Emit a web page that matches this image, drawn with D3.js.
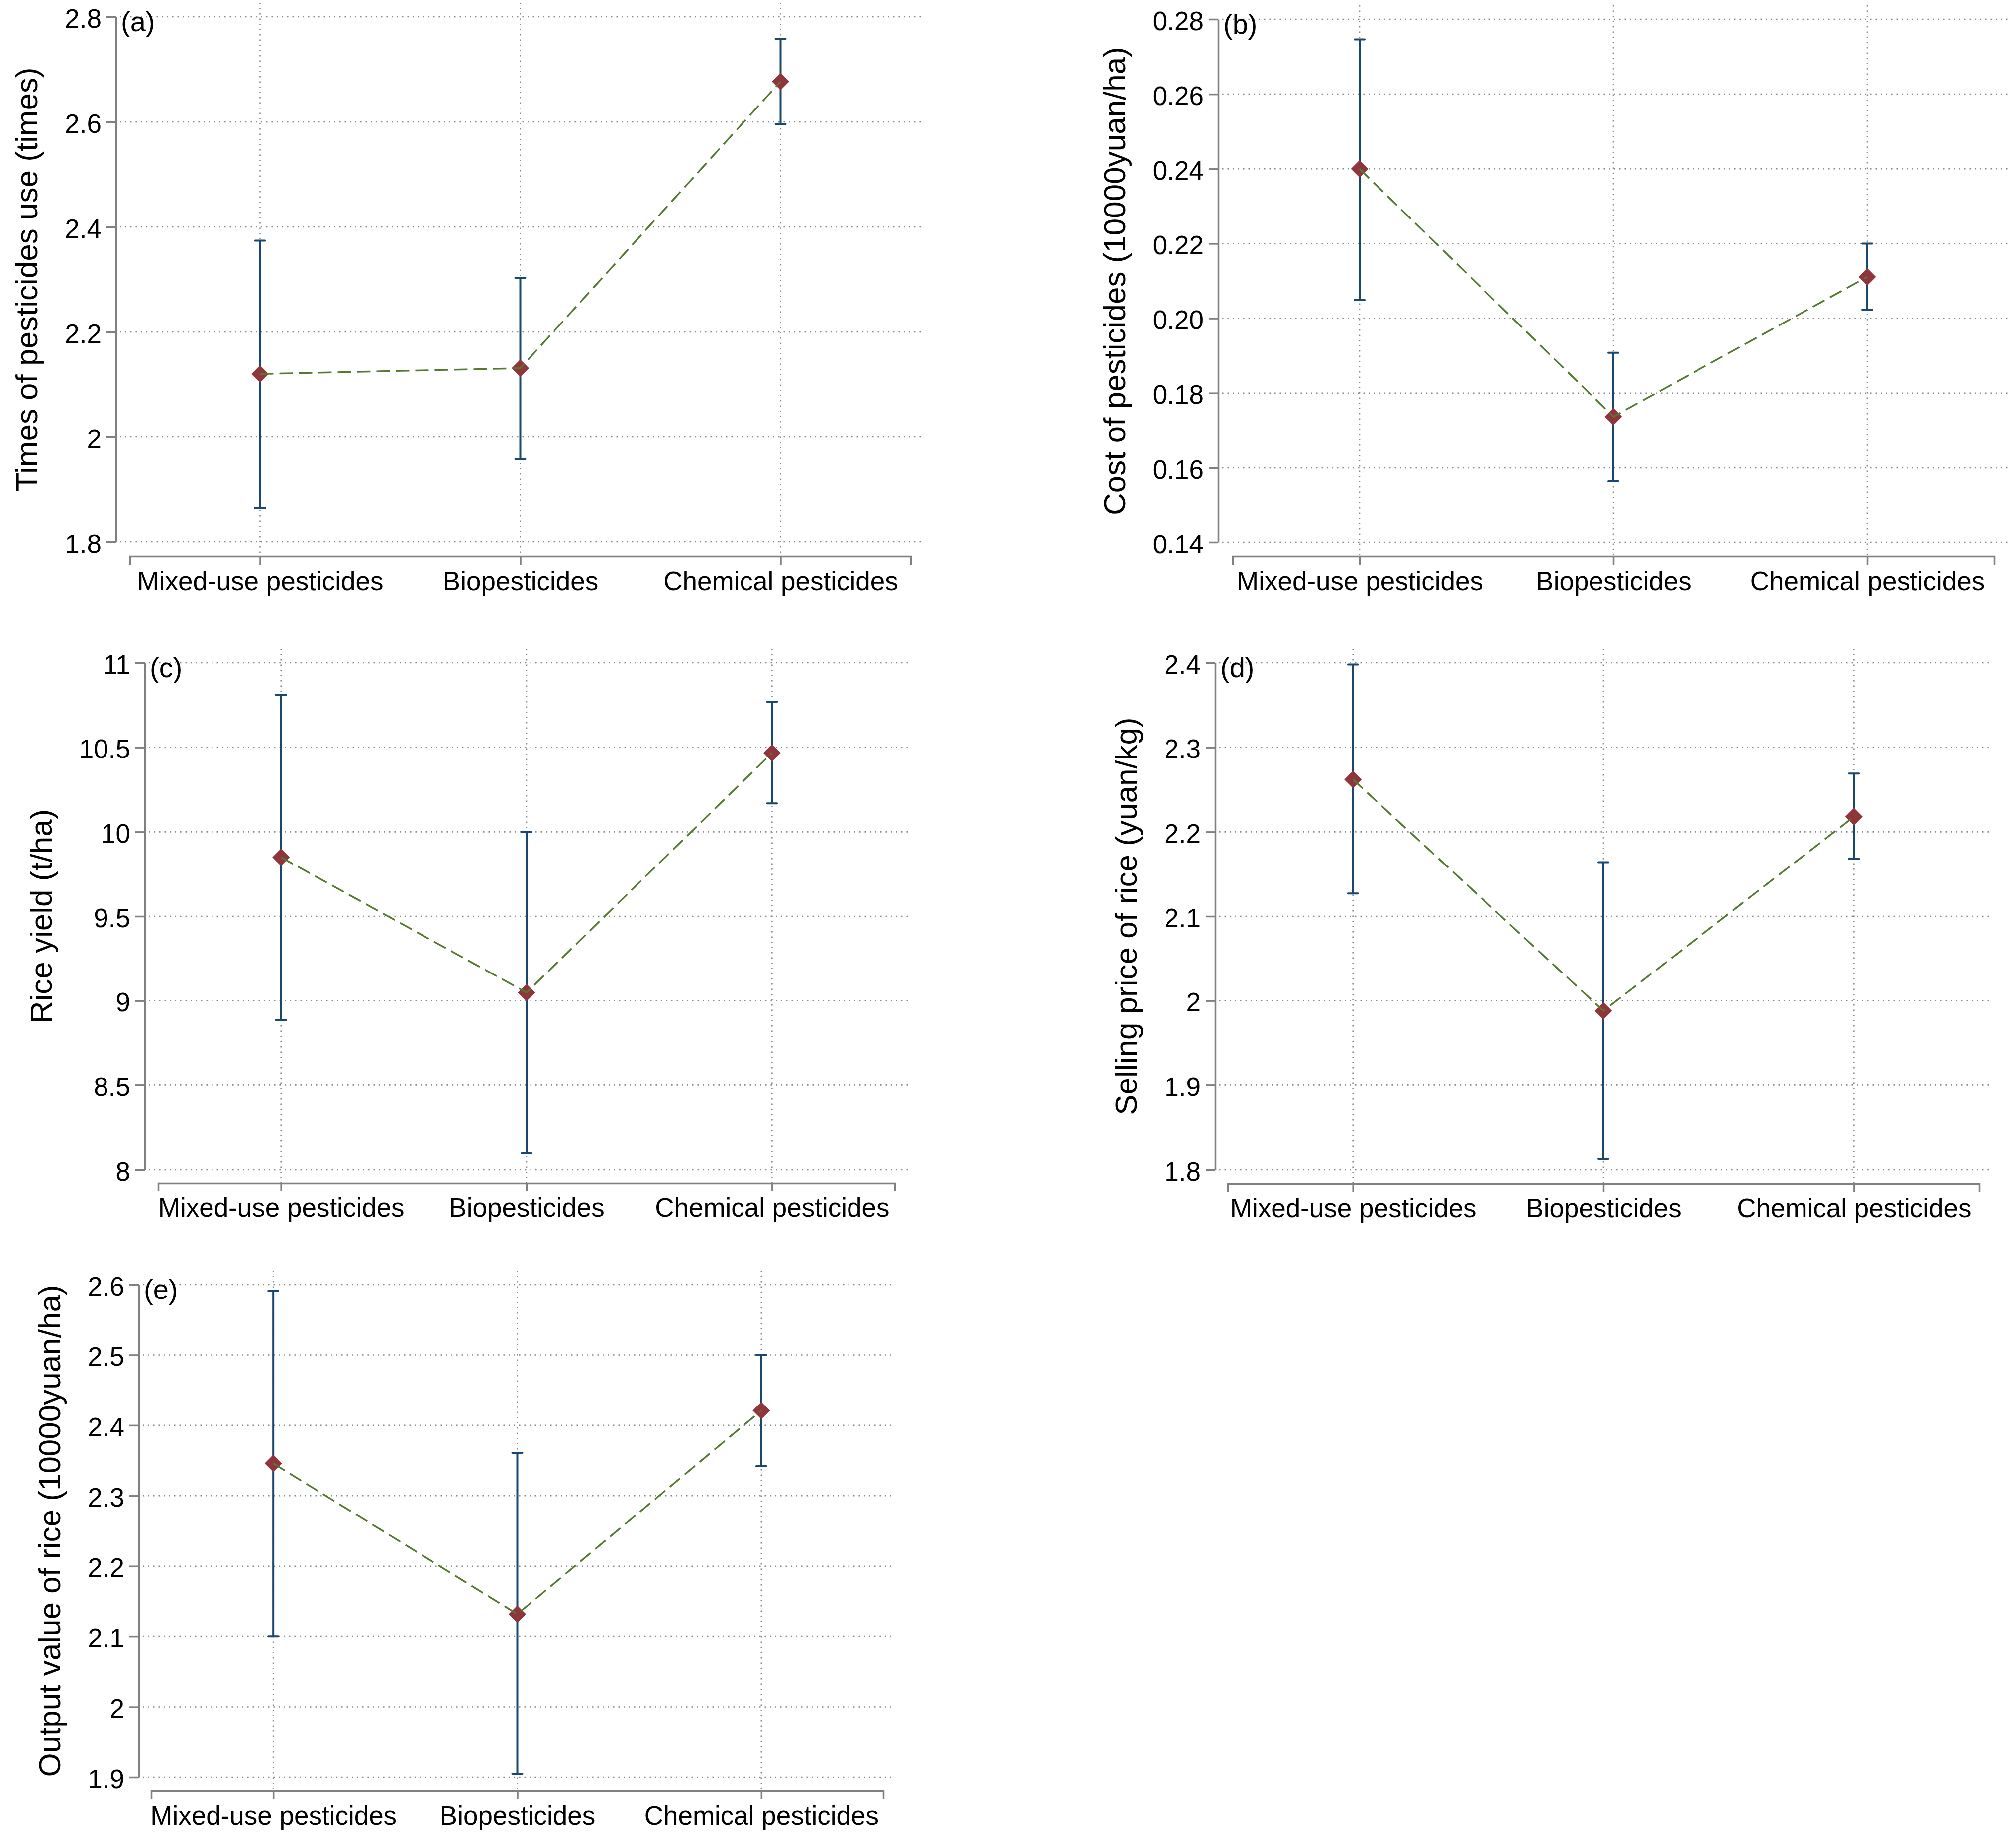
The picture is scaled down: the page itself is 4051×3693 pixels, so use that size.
<!DOCTYPE html>
<html>
<head>
<meta charset="utf-8">
<script src="https://cdn.jsdelivr.net/npm/d3@7.9.0/dist/d3.min.js"></script>
<style>
  body { margin: 0; background: #fff; }
  text { font-family: 'Liberation Sans', Arial, Helvetica, sans-serif; fill: #000; }
</style>
</head>
<body>
<script>
// categories on the x axis (same for every panel)
const categories = ['Mixed-use pesticides', 'Biopesticides', 'Chemical pesticides'];

// panel letters and y titles
const panelLetters = ['(a)', '(b)', '(c)', '(d)', '(e)'];
const yTitles = [
  'Times of pesticides use (times)',
  'Cost of pesticides (10000yuan/ha)',
  'Rice yield (t/ha)',
  'Selling price of rice (yuan/kg)',
  'Output value of rice (10000yuan/ha)'
];

// (a) times of pesticide use
const timesMean = [2.120, 2.131, 2.677];
const timesLow  = [1.865, 1.958, 2.596];
const timesHigh = [2.374, 2.303, 2.758];
const timesTicks  = [1.8, 2.0, 2.2, 2.4, 2.6, 2.8];
const timesLabels = ['1.8', '2', '2.2', '2.4', '2.6', '2.8'];

// (b) cost of pesticides
const costMean = [0.2400, 0.1737, 0.2111];
const costLow  = [0.2049, 0.1564, 0.2023];
const costHigh = [0.2746, 0.1908, 0.2200];
const costTicks  = [0.14, 0.16, 0.18, 0.20, 0.22, 0.24, 0.26, 0.28];
const costLabels = ['0.14', '0.16', '0.18', '0.20', '0.22', '0.24', '0.26', '0.28'];

// (c) rice yield
const yieldMean = [9.849, 9.048, 10.467];
const yieldLow  = [8.886, 8.097, 10.168];
const yieldHigh = [10.81, 9.999, 10.77];
const yieldTicks  = [8, 8.5, 9, 9.5, 10, 10.5, 11];
const yieldLabels = ['8', '8.5', '9', '9.5', '10', '10.5', '11'];

// (d) selling price
const priceMean = [2.262, 1.988, 2.218];
const priceLow  = [2.127, 1.813, 2.168];
const priceHigh = [2.398, 2.164, 2.269];
const priceTicks  = [1.8, 1.9, 2.0, 2.1, 2.2, 2.3, 2.4];
const priceLabels = ['1.8', '1.9', '2', '2.1', '2.2', '2.3', '2.4'];

// (e) output value
const outputMean = [2.346, 2.132, 2.421];
const outputLow  = [2.100, 1.905, 2.342];
const outputHigh = [2.591, 2.361, 2.500];
const outputTicks  = [1.9, 2.0, 2.1, 2.2, 2.3, 2.4, 2.5, 2.6];
const outputLabels = ['1.9', '2', '2.1', '2.2', '2.3', '2.4', '2.5', '2.6'];

const series = [
  { mean: timesMean,  low: timesLow,  high: timesHigh,  ticks: timesTicks,  labels: timesLabels },
  { mean: costMean,   low: costLow,   high: costHigh,   ticks: costTicks,   labels: costLabels },
  { mean: yieldMean,  low: yieldLow,  high: yieldHigh,  ticks: yieldTicks,  labels: yieldLabels },
  { mean: priceMean,  low: priceLow,  high: priceHigh,  ticks: priceTicks,  labels: priceLabels },
  { mean: outputMean, low: outputLow, high: outputHigh, ticks: outputTicks, labels: outputLabels }
];

// panel geometry (pixels)
const layout = [
  { axisX: 233,  yTop: 34,   yBot: 1089, xAxisY: 1118, xStart: 261,  xEnd: 1830, gridR: 1855 },
  { axisX: 2448, yTop: 39,   yBot: 1090, xAxisY: 1118, xStart: 2477, xEnd: 4007, gridR: 4034 },
  { axisX: 291,  yTop: 1332, yBot: 2350, xAxisY: 2377, xStart: 318,  xEnd: 1798, gridR: 1824 },
  { axisX: 2442, yTop: 1332, yBot: 2350, xAxisY: 2378, xStart: 2467, xEnd: 3977, gridR: 4004 },
  { axisX: 279,  yTop: 2581, yBot: 3571, xAxisY: 3598, xStart: 304,  xEnd: 1775, gridR: 1799 }
];

const W = 4051, H = 3693;
const GRID = '#888', AXIS = '#808080', NAVY = '#1a476f', CRAN = '#90353b', GREEN = '#55792f';

const svg = d3.select('body').append('svg')
  .attr('width', W).attr('height', H);
svg.append('rect').attr('width', W).attr('height', H).attr('fill', '#fff');

series.forEach((s, i) => {
  const L = layout[i];
  const g = svg.append('g');

  const y = d3.scaleLinear()
    .domain([s.ticks[0], s.ticks[s.ticks.length - 1]])
    .range([L.yBot, L.yTop]);
  const x = d3.scalePoint()
    .domain(categories)
    .range([L.xStart, L.xEnd])
    .padding(0.5);

  // dotted grid
  g.append('g').selectAll('line')
    .data(s.ticks).join('line')
      .attr('x1', L.axisX + 8).attr('x2', L.gridR)
      .attr('y1', d => y(d)).attr('y2', d => y(d))
      .attr('stroke', GRID).attr('stroke-width', 2.6)
      .attr('stroke-dasharray', '2.5 8');
  g.append('g').selectAll('line')
    .data(categories).join('line')
      .attr('x1', d => x(d)).attr('x2', d => x(d))
      .attr('y1', L.yTop - 28).attr('y2', L.xAxisY)
      .attr('stroke', GRID).attr('stroke-width', 2.6)
      .attr('stroke-dasharray', '2.5 8');

  // y axis
  const ya = g.append('g')
    .attr('transform', `translate(${L.axisX},0)`)
    .call(d3.axisLeft(y)
      .tickValues(s.ticks)
      .tickFormat((d, k) => s.labels[k])
      .tickSize(19).tickSizeOuter(0).tickPadding(10));
  ya.selectAll('path, line').attr('stroke', AXIS).attr('stroke-width', 3.5);
  ya.selectAll('text')
    .attr('font-size', 53).attr('dy', '0.4em')
    .attr('font-family', "'Liberation Sans', Arial, sans-serif").attr('fill', '#000');

  // x axis
  const xa = g.append('g')
    .attr('transform', `translate(0,${L.xAxisY})`)
    .call(d3.axisBottom(x).tickSize(17).tickSizeOuter(17).tickPadding(13));
  xa.selectAll('path, line').attr('stroke', AXIS).attr('stroke-width', 3.5);
  xa.selectAll('text')
    .attr('font-size', 53)
    .attr('font-family', "'Liberation Sans', Arial, sans-serif").attr('fill', '#000');

  // y title placed left of the widest tick label
  let maxW = 0;
  ya.selectAll('text').each(function() { maxW = Math.max(maxW, this.getComputedTextLength()); });
  const tx = L.axisX - 29 - maxW - 55;
  g.append('text')
    .attr('transform', `translate(${tx},${(L.yTop + L.yBot) / 2}) rotate(-90)`)
    .attr('text-anchor', 'middle')
    .attr('font-size', 62)
    .text(yTitles[i]);

  // panel letter
  g.append('text')
    .attr('x', L.axisX + 10).attr('y', L.yTop + 29)
    .attr('font-size', 56)
    .text(panelLetters[i]);

  const pts = categories.map((c, k) => ({ c, m: s.mean[k], lo: s.low[k], hi: s.high[k] }));

  // error bars
  const eb = g.append('g').attr('stroke', NAVY).attr('stroke-width', 4);
  eb.selectAll('line.bar').data(pts).join('line').attr('class', 'bar')
    .attr('x1', d => x(d.c)).attr('x2', d => x(d.c))
    .attr('y1', d => y(d.lo)).attr('y2', d => y(d.hi));
  eb.selectAll('line.capl').data(pts).join('line').attr('class', 'capl')
    .attr('x1', d => x(d.c) - 10).attr('x2', d => x(d.c) + 10)
    .attr('y1', d => y(d.lo)).attr('y2', d => y(d.lo))
    .attr('stroke-linecap', 'round');
  eb.selectAll('line.caph').data(pts).join('line').attr('class', 'caph')
    .attr('x1', d => x(d.c) - 10).attr('x2', d => x(d.c) + 10)
    .attr('y1', d => y(d.hi)).attr('y2', d => y(d.hi))
    .attr('stroke-linecap', 'round');

  // diamonds
  const sym = d3.symbol(d3.symbolSquare, 612);
  g.append('g').selectAll('path')
    .data(pts).join('path')
      .attr('d', sym)
      .attr('transform', d => `translate(${x(d.c)},${y(d.m)}) rotate(45)`)
      .attr('fill', CRAN);

  // dashed connecting line
  g.append('path')
    .datum(pts)
    .attr('fill', 'none')
    .attr('stroke', GREEN).attr('stroke-width', 3.5)
    .attr('stroke-dasharray', '27 12')
    .attr('d', d3.line().x(d => x(d.c)).y(d => y(d.m)));
});
</script>
</body>
</html>
